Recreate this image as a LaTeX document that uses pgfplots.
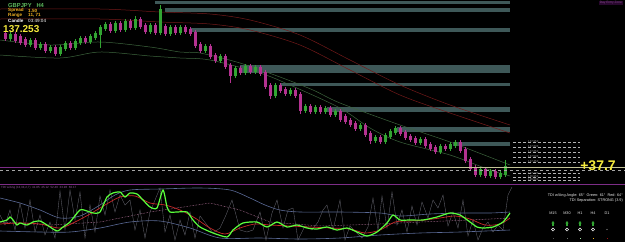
\documentclass[border=0pt]{standalone}
\usepackage{pgfplots}
\pgfplotsset{compat=1.18}
\usepackage{pgfplotstable}
\usetikzlibrary{arrows.meta}
\usepackage{fontspec}
\setmainfont{Liberation Sans}
\definecolor{zone}{RGB}{62,88,88}
\definecolor{bullc}{RGB}{50,165,50}
\definecolor{bearc}{RGB}{180,50,145}
\definecolor{mared}{RGB}{115,25,25}
\definecolor{magreen}{RGB}{60,100,60}
\definecolor{tdig}{RGB}{90,255,60}
\definecolor{tdir}{RGB}{200,40,40}
\definecolor{band}{RGB}{90,105,150}
\definecolor{rsig}{RGB}{100,100,110}
\definecolor{beige}{RGB}{195,195,150}
\definecolor{sepm}{RGB}{125,45,135}
\definecolor{yel}{RGB}{245,235,60}
\definecolor{orng}{RGB}{235,175,35}
% candles: x  body-top  body-bottom  wick-high  wick-low   (pixel rows)
\pgfplotstableread{
x t b h l
10 34 39 32 41
30 40 45 38 47
40 44 48 42 50
50 47 51 45 53
60 47 54 45 56
65 43 49 41 51
75 41 48 39 50
80 38 43 36 45
90 36 42 34 44
95 33 38 31 40
100 27 35 25 48
105 24 29 22 31
115 23 31 21 33
125 21 30 19 32
135 19 28 16 30
150 25 32 23 34
160 9 33 5 35
170 27 34 25 36
180 27 33 25 35
205 46 51 44 53
220 56 61 54 63
235 68 76 66 78
245 66 73 64 75
255 67 72 65 74
275 85 96 83 98
290 90 94 88 96
305 106 111 104 113
315 107 112 105 114
325 108 112 106 114
335 111 115 109 117
360 125 129 123 131
375 137 141 135 143
385 135 142 133 144
390 131 137 129 139
395 128 133 126 135
420 139 143 137 145
440 146 152 144 154
450 144 149 142 151
455 142 146 140 148
480 169 175 167 177
490 171 176 169 178
500 173 177 171 179
505 166 175 160 177
}\bull
\pgfplotstableread{
x t b h l
5 33 39 31 41
15 34 41 32 43
20 36 43 34 45
25 39 45 37 47
35 40 48 38 50
45 44 51 42 53
55 47 54 45 56
70 43 48 41 50
85 38 42 36 44
110 24 31 22 33
120 23 30 21 32
130 21 28 19 30
140 19 27 17 29
145 25 32 23 34
155 25 33 23 35
165 26 34 24 36
175 27 33 25 35
185 27 32 25 34
190 29 34 27 36
195 32 46 30 48
200 44 51 42 53
210 46 57 44 59
215 55 61 53 63
225 56 67 54 69
230 65 76 63 83
240 68 73 66 75
250 66 72 64 74
260 67 74 65 76
265 72 87 70 89
270 85 96 83 99
280 85 91 83 93
285 89 94 87 96
295 90 96 88 98
300 94 111 92 114
310 106 112 104 114
320 107 112 105 114
330 108 115 106 117
340 111 120 109 122
345 116 122 114 124
350 120 125 118 127
355 123 129 121 131
365 125 135 123 137
370 133 141 131 144
380 137 142 135 144
400 128 134 126 136
405 132 138 130 140
410 136 140 134 142
415 138 143 136 145
425 139 146 137 148
430 144 149 142 151
435 147 152 145 154
445 146 149 144 151
460 142 151 140 153
465 149 161 147 163
470 159 169 157 171
475 167 175 165 177
485 169 176 167 178
495 171 177 169 179
}\bear
\begin{document}
\begin{tikzpicture}
\begin{axis}[
  scale only axis, width=625pt, height=242pt,
  xmin=0, xmax=625, ymin=0, ymax=242, y dir=reverse,
  hide axis, clip=true,
]
\fill[black] (rel axis cs:0,0) rectangle (rel axis cs:1,1);
% supply zones
\addplot[fill=zone, draw=none] coordinates {(155,0.5)(510,0.5)(510,3.5)(155,3.5)};
\addplot[fill=zone, draw=none] coordinates {(165,8)(510,8)(510,12)(165,12)};
\addplot[fill=zone, draw=none] coordinates {(190,28)(510,28)(510,32)(190,32)};
\addplot[fill=zone, draw=none] coordinates {(240,64.5)(510,64.5)(510,72.5)(240,72.5)};
\addplot[fill=zone, draw=none] coordinates {(280,82.5)(510,82.5)(510,86)(280,86)};
\addplot[fill=zone, draw=none] coordinates {(327,106.5)(510,106.5)(510,111.5)(327,111.5)};
\addplot[fill=zone, draw=none] coordinates {(397,127)(510,127)(510,132)(397,132)};
\addplot[fill=zone, draw=none] coordinates {(453,142)(510,142)(510,146)(453,146)};
% moving averages on price
\addplot[mared, line width=0.5pt, smooth] coordinates {(0,9)(100,9)(160,12)(210,14)(250,20)(300,35)(350,60)(400,85)(450,105)(510,125)};
\addplot[mared, line width=0.5pt, smooth] coordinates {(0,19)(100,19)(160,22)(210,24)(250,30)(300,45)(350,70)(400,95)(450,113)(510,133)};
\addplot[magreen, line width=0.5pt, smooth] coordinates {(0,40)(50,45)(100,42)(150,47)(180,52)(200,53)(240,63)(280,77)(313,90)(340,103)(400,125)(450,142)(510,165)};
\addplot[magreen, line width=0.5pt, smooth] coordinates {(0,55)(60,58)(100,52)(150,56)(180,58)(210,60)(260,73)(290,85)(340,108)(370,128)(400,142)(450,155)(490,170)(510,176)};
% candles
\addplot[bearc, line width=0.6pt, quiver={u=0, v=\thisrow{l}-\thisrow{h}}] table[x=x, y=h] \bear;
\addplot[bearc, line width=3pt, quiver={u=0, v=\thisrow{b}-\thisrow{t}}] table[x=x, y=t] \bear;
\addplot[bullc, line width=0.6pt, quiver={u=0, v=\thisrow{l}-\thisrow{h}}] table[x=x, y=h] \bull;
\addplot[bullc, line width=3pt, quiver={u=0, v=\thisrow{b}-\thisrow{t}}] table[x=x, y=t] \bull;
% level lines
\addplot[beige, line width=0.6pt] coordinates {(0,167)(625,167)};
\addplot[gray!70, dashed, line width=0.4pt] coordinates {(0,170.5)(625,170.5)};
\pgfplotsinvokeforeach{142,147,152,157,162,173.5,177,180}{
  \addplot[gray!60, densely dashed, line width=0.3pt] coordinates {(513,#1)(580,#1)};
}
\addplot[sepm, line width=0.7pt] coordinates {(0,184)(625,184)};
\addplot[sepm, line width=0.6pt] coordinates {(0,167.5)(30,167.5)};
% TDI panel
\addplot[band, line width=0.6pt, smooth] coordinates {(0,198)(20,203)(40,210)(60,218)(80,216)(100,205)(115,195)(130,190)(160,189)(200,188)(230,190)(250,198)(265,205)(280,210)(300,212)(340,212)(380,213)(400,216)(430,214)(460,213)(490,213)(510,212)};
\addplot[band, line width=0.6pt, smooth] coordinates {(0,231)(40,232)(70,232)(100,228)(130,222)(160,221)(190,228)(220,238)(260,238)(300,239)(340,238)(380,235)(420,233)(460,232)(510,230)};
\addplot[beige!70!magenta, line width=0.5pt, densely dotted] coordinates {(0,222)(50,225)(100,222)(150,212)(210,203)(240,210)(270,222)(320,226)(380,224)(420,222)(470,220)(510,218)};
\addplot[rsig, line width=0.35pt] coordinates {(0,215)(5,225)(10,210)(15,230)(20,203)(25,228)(30,200)(35,232)(40,215)(45,235)(50,222)(55,238)(60,191)(65,230)(70,190)(75,220)(80,192)(85,238)(90,205)(95,232)(100,196)(105,215)(110,190)(115,212)(120,195)(125,205)(130,200)(135,230)(140,210)(145,238)(150,212)(155,200)(160,188)(165,232)(170,215)(175,240)(180,220)(185,235)(190,212)(195,238)(200,216)(207,225)(213,233)(220,228)(226,215)(232,200)(240,230)(247,232)(253,230)(260,212)(266,240)(272,213)(277,200)(283,228)(288,210)(293,208)(298,240)(305,226)(312,230)(318,222)(323,210)(327,205)(333,230)(340,200)(345,240)(350,226)(356,232)(362,238)(368,227)(373,198)(378,230)(382,196)(387,228)(392,192)(397,225)(402,210)(407,232)(412,206)(417,225)(422,202)(428,218)(433,200)(438,208)(443,195)(448,226)(453,212)(458,228)(463,200)(468,236)(473,220)(478,240)(483,228)(488,222)(493,232)(498,225)(503,230)(508,195)(512,187)};
\addplot[tdir, line width=0.7pt, smooth] coordinates {(0,224)(20,223)(40,224)(60,228)(75,222)(90,214)(105,205)(120,197)(135,196)(150,203)(165,205)(180,210)(195,218)(210,228)(225,234)(240,228)(255,224)(270,225)(290,226)(310,227)(330,228)(350,229)(365,233)(380,230)(395,222)(410,221)(425,220)(440,218)(455,216)(470,219)(485,225)(500,224)(510,218)};
\addplot[tdig, line width=1.2pt, smooth, tension=0.4] coordinates {(0,222)(7,220)(10,217)(13,220)(17,225)(20,223)(27,225)(33,222)(40,221)(47,225)(57,231)(63,227)(70,222)(80,210)(87,211)(93,213)(100,212)(107,197)(113,193)(120,192)(125,197)(130,193)(137,194)(143,200)(150,207)(157,208)(163,190)(167,207)(170,212)(177,212)(187,212)(193,220)(200,227)(213,233)(227,237)(233,230)(243,223)(257,222)(267,227)(277,222)(287,227)(297,225)(307,228)(317,229)(327,227)(337,230)(347,228)(357,232)(367,236)(377,232)(387,223)(393,215)(400,220)(410,220)(423,220)(437,217)(450,213)(460,215)(470,222)(477,227)(483,228)(493,227)(503,222)(510,213)};
% multi-timeframe panel
\addplot[bullc, line width=1.1pt, quiver={u=0, v=-5}, -{Triangle[width=3.2pt,length=2.4pt]}] coordinates {(553,226)(567,226)(580,226)(593,226)};
\addplot[only marks, mark=o, mark size=1.6pt, white, line width=0.5pt] coordinates {(553,229.5)(567,229.5)(580,229.5)(593,229.5)};
\addplot[only marks, mark=*, mark size=0.4pt, gray] coordinates {(607,229.5)};
\addplot[only marks, mark=square*, mark size=1.3pt, draw=none, fill={rgb,255:red,80;green,80;blue,80}] coordinates {(553,238)};
\addplot[only marks, mark=square*, mark size=1.3pt, draw=none, fill={rgb,255:red,105;green,110;blue,105}] coordinates {(567,238)};
\addplot[only marks, mark=square*, mark size=1.3pt, draw=none, fill={rgb,255:red,165;green,230;blue,165}] coordinates {(580,238)};
\addplot[only marks, mark=square*, mark size=1.3pt, draw=none, fill=orng] coordinates {(593,238)};
\addplot[only marks, mark=square*, mark size=1.3pt, draw=none, fill={rgb,255:red,150;green,20;blue,20}] coordinates {(607,238)};
% texts
\node[anchor=west, inner sep=0pt, text=bullc!80!white, font=\fontsize{5.8}{6}\selectfont\bfseries] at (axis cs:8,5) {GBPJPY\ \ \ H4};
\node[anchor=west, inner sep=0pt, text=orng, font=\fontsize{4.6}{5}\selectfont\bfseries] at (axis cs:8,10.5) {Spread};
\node[anchor=west, inner sep=0pt, text=orng, font=\fontsize{4.6}{5}\selectfont\bfseries] at (axis cs:28,10.5) {1.50};
\node[anchor=west, inner sep=0pt, text=orng, font=\fontsize{4.6}{5}\selectfont\bfseries] at (axis cs:8,15.5) {Range};
\node[anchor=west, inner sep=0pt, text=orng, font=\fontsize{4.6}{5}\selectfont\bfseries] at (axis cs:28,15.5) {11, 71};
\node[anchor=west, inner sep=0pt, text=white, font=\fontsize{4.6}{5}\selectfont\bfseries] at (axis cs:8,20.5) {Candle};
\node[anchor=west, inner sep=0pt, text=white, font=\fontsize{4.6}{5}\selectfont] at (axis cs:28,20.5) {03:49:04};
\node[anchor=west, inner sep=0pt, text=yel, font=\fontsize{10}{11}\selectfont\bfseries] at (axis cs:3,29.5) {137.253};
\node[anchor=north east, inner sep=0.8pt, fill={rgb,255:red,40;green,8;blue,45}, text={rgb,255:red,130;green,70;blue,140}, font=\fontsize{3.2}{3.5}\selectfont] at (axis cs:623,0.5) {Day Entry Zone};
\node[anchor=center, inner sep=0pt, text=yel, font=\fontsize{14}{15}\selectfont\bfseries] at (axis cs:598,165.5) {+37.7};
\node[anchor=west, inner sep=0pt, text=sepm!80!white, font=\fontsize{3}{3.3}\selectfont] at (axis cs:1,188) {TDI w/Ang (13,34,2,7)\ \ 41.85\ \ 45.12\ \ 52.40\ \ 33.96\ \ 60.17};
\node[anchor=west, inner sep=0pt, text=gray!80, font=\fontsize{2.8}{3}\selectfont] at (axis cs:528,142) {137.950};
\node[anchor=west, inner sep=0pt, text=gray!80, font=\fontsize{2.8}{3}\selectfont] at (axis cs:528,147) {137.800};
\node[anchor=west, inner sep=0pt, text=gray!80, font=\fontsize{2.8}{3}\selectfont] at (axis cs:528,152) {137.650};
\node[anchor=west, inner sep=0pt, text=gray!80, font=\fontsize{2.8}{3}\selectfont] at (axis cs:528,157) {137.500};
\node[anchor=west, inner sep=0pt, text=gray!80, font=\fontsize{2.8}{3}\selectfont] at (axis cs:528,162) {137.350};
\node[anchor=west, inner sep=0pt, text=gray!80, font=\fontsize{2.8}{3}\selectfont] at (axis cs:528,173.5) {137.100};
\node[anchor=west, inner sep=0pt, text=gray!80, font=\fontsize{2.8}{3}\selectfont] at (axis cs:528,177) {136.950};
\node[anchor=west, inner sep=0pt, text=gray!80, font=\fontsize{2.8}{3}\selectfont] at (axis cs:528,180) {136.800};
\node[anchor=east, inner sep=0pt, text=white!85!gray, font=\fontsize{3.8}{4}\selectfont] at (axis cs:623,196) {TDI w/Ang Angle: 65\textdegree\ \ Green: 61\textdegree\ \ Red: 64\textdegree};
\node[anchor=east, inner sep=0pt, text=white!85!gray, font=\fontsize{3.8}{4}\selectfont] at (axis cs:623,201) {TDI Separation: STRONG (3.9)};
\node[anchor=center, inner sep=0pt, text=white!80!gray, font=\fontsize{3.8}{4}\selectfont] at (axis cs:553,213) {M15};
\node[anchor=center, inner sep=0pt, text=white!80!gray, font=\fontsize{3.8}{4}\selectfont] at (axis cs:567,213) {M30};
\node[anchor=center, inner sep=0pt, text=white!80!gray, font=\fontsize{3.8}{4}\selectfont] at (axis cs:580,213) {H1};
\node[anchor=center, inner sep=0pt, text=white!80!gray, font=\fontsize{3.8}{4}\selectfont] at (axis cs:593,213) {H4};
\node[anchor=center, inner sep=0pt, text=white!80!gray, font=\fontsize{3.8}{4}\selectfont] at (axis cs:607,213) {D1};
\end{axis}
\pgfresetboundingbox
\useasboundingbox (0,0) rectangle (625pt,242pt);
\end{tikzpicture}
\end{document}
